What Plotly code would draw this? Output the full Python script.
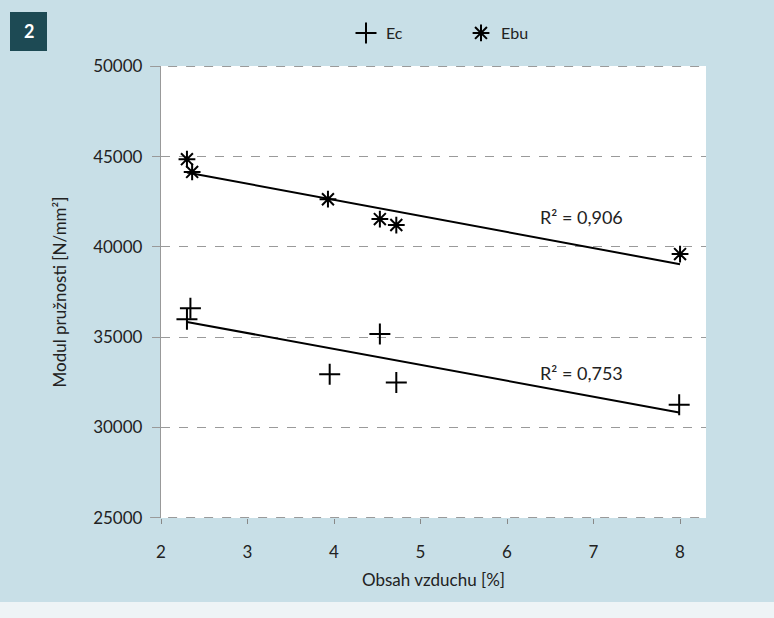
import numpy as np
import plotly.graph_objects as go

# Data
ec_x = [2.30, 2.34, 3.95, 4.53, 4.72, 7.99]
ec_y = [35990, 36600, 32950, 35180, 32480, 31250]
ebu_x = [2.30, 2.36, 3.93, 4.53, 4.72, 8.00]
ebu_y = [44860, 44150, 42640, 41540, 41210, 39600]
r2_labels = ["R² = 0,906", "R² = 0,753"]
x_ticks = [2, 3, 4, 5, 6, 7, 8]
y_ticks = [25000, 30000, 35000, 40000, 45000, 50000]

font_family = "Lato, 'Open Sans', sans-serif"

def trend(xs, ys):
    xs = np.array(xs); ys = np.array(ys)
    k, q = np.polyfit(xs, ys, 1)
    xx = np.array([xs.min(), xs.max()])
    return xx, k * xx + q

fig = go.Figure()

tx, ty = trend(ebu_x, ebu_y)
fig.add_trace(go.Scatter(x=tx, y=ty, mode="lines", line=dict(color="black", width=2),
                         showlegend=False, hoverinfo="skip"))
tx2, ty2 = trend(ec_x, ec_y)
fig.add_trace(go.Scatter(x=tx2, y=ty2, mode="lines", line=dict(color="black", width=2),
                         showlegend=False, hoverinfo="skip"))

fig.add_trace(go.Scatter(x=ec_x, y=ec_y, mode="markers", name="Ec",
                         marker=dict(symbol="cross-thin", size=15,
                                     line=dict(color="black", width=2), color="black")))
fig.add_trace(go.Scatter(x=ebu_x, y=ebu_y, mode="markers", name="Ebu",
                         marker=dict(symbol="asterisk", size=14,
                                     line=dict(color="black", width=2), color="black")))

fig.add_annotation(x=6.86, y=41650, text=r2_labels[0], showarrow=False,
                   font=dict(size=18, color="#222"))
fig.add_annotation(x=6.86, y=33020, text=r2_labels[1], showarrow=False,
                   font=dict(size=18, color="#222"))

# dashed lines at the top and bottom of the value range
for yv in (y_ticks[0], y_ticks[-1]):
    fig.add_shape(type="line", xref="paper", yref="y", x0=-0.02, x1=1, y0=yv, y1=yv,
                  line=dict(color="#9a9a9a", width=1.3, dash="dash"), layer="above")

# dark number box top-left
fig.add_shape(type="rect", xref="paper", yref="paper",
              x0=(10 - 161) / 545, x1=(47 - 161) / 545,
              y0=(518 - 51) / 452, y1=(518 - 12) / 452,
              fillcolor="#1d4a54", line=dict(width=0), layer="above")
fig.add_annotation(xref="paper", yref="paper", x=(28.5 - 161) / 545, y=(518 - 31) / 452,
                   xanchor="center", yanchor="middle",
                   text="<b>2</b>", showarrow=False, font=dict(size=18, color="white"))
# light strip at the bottom of the scan
fig.add_shape(type="rect", xref="paper", yref="paper",
              x0=-161 / 545, x1=(774 - 161) / 545,
              y0=(518 - 618) / 452, y1=(518 - 602) / 452,
              fillcolor="#eef4f6", line=dict(width=0), layer="below")

fig.update_layout(
    width=774, height=618,
    margin=dict(l=161, r=68, t=66, b=100),
    paper_bgcolor="#c8dfe7",
    plot_bgcolor="white",
    font=dict(family=font_family, size=17, color="#222"),
    showlegend=True,
    legend=dict(orientation="h", x=(346 - 161) / 545, xanchor="left", y=1.073, yanchor="middle",
                bgcolor="rgba(0,0,0,0)", font=dict(size=16),
                entrywidth=70, entrywidthmode="pixels"),
    xaxis=dict(range=[2, 8.3], tickvals=x_ticks, showgrid=False, zeroline=False,
               showline=False, ticks="outside", ticklen=5, tickcolor="#888",
               tickfont=dict(size=17), ticklabelstandoff=14,
               title=dict(text="Obsah vzduchu [%]", font=dict(size=17), standoff=12)),
    yaxis=dict(range=[24980, 50020], tickvals=y_ticks, tickformat="d", showgrid=True,
               gridcolor="#9a9a9a", griddash="dash", gridwidth=1.3, zeroline=False,
               showline=True, linecolor="#999", linewidth=1.3,
               ticks="outside", ticklen=8, tickcolor="#999",
               tickfont=dict(size=17), ticklabelstandoff=6,
               title=dict(text="Modul pružnosti [N/mm²]", font=dict(size=17), standoff=22)),
)

fig.write_html("out.html", post_script="document.body.style.margin='0';",
               config={"displayModeBar": False})
